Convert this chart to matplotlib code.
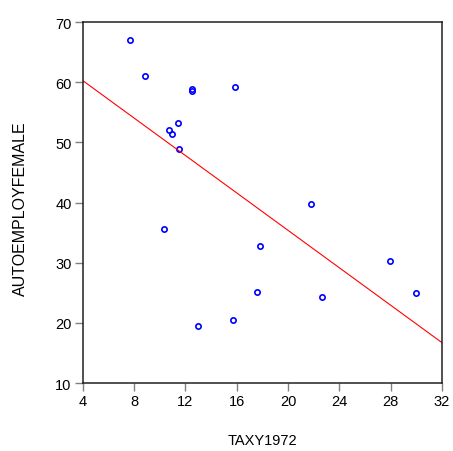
import numpy as np
import matplotlib
matplotlib.use("Agg")
import matplotlib.pyplot as plt

plt.rcParams['font.family'] = ['Liberation Sans', 'DejaVu Sans']

# data
taxy1972 = [7.70, 8.82, 12.50, 12.50, 15.90, 11.41, 10.69, 10.92, 11.51,
            10.32, 13.02, 15.71, 21.83, 17.81, 17.61, 22.61, 27.95, 29.94]
autoemployfemale = [67.06, 61.0, 58.9, 58.6, 59.14, 53.27, 52.1, 51.38, 48.94,
                    35.55, 19.48, 20.47, 39.75, 32.82, 25.18, 24.35, 30.28, 24.96]
xticks = [4, 8, 12, 16, 20, 24, 28, 32]
yticks = [10, 20, 30, 40, 50, 60, 70]

x = np.array(taxy1972)
y = np.array(autoemployfemale)

# regression line
slope, intercept = np.polyfit(x, y, 1)
xline = np.array([4, 32])

fig = plt.figure(figsize=(4.53, 4.52), dpi=100)
ax = fig.add_axes([0.1826, 0.1504, 0.7931, 0.7986])

ax.plot(x, y, 'o', mfc='none', mec='#0000ff', ms=3.8, mew=1.2, clip_on=False)
ax.plot(xline, intercept + slope * xline, color='#ff0000', lw=0.8)

ax.set_xlim(4, 32)
ax.set_ylim(10, 70)
ax.set_xticks(xticks)
ax.set_yticks(yticks)
ax.tick_params(direction='out', length=6, width=1, color='#808080',
               labelsize=10.5, pad=2)
for s in ax.spines.values():
    s.set_linewidth(1.1)
    s.set_color('#202020')

ax.set_xlabel("TAXY1972", fontsize=10.5, labelpad=18)
ax.set_ylabel("AUTOEMPLOYFEMALE", fontsize=11.5)
ax.yaxis.set_label_coords(-0.152, 0.487)

plt.savefig("out.png", dpi=100)
